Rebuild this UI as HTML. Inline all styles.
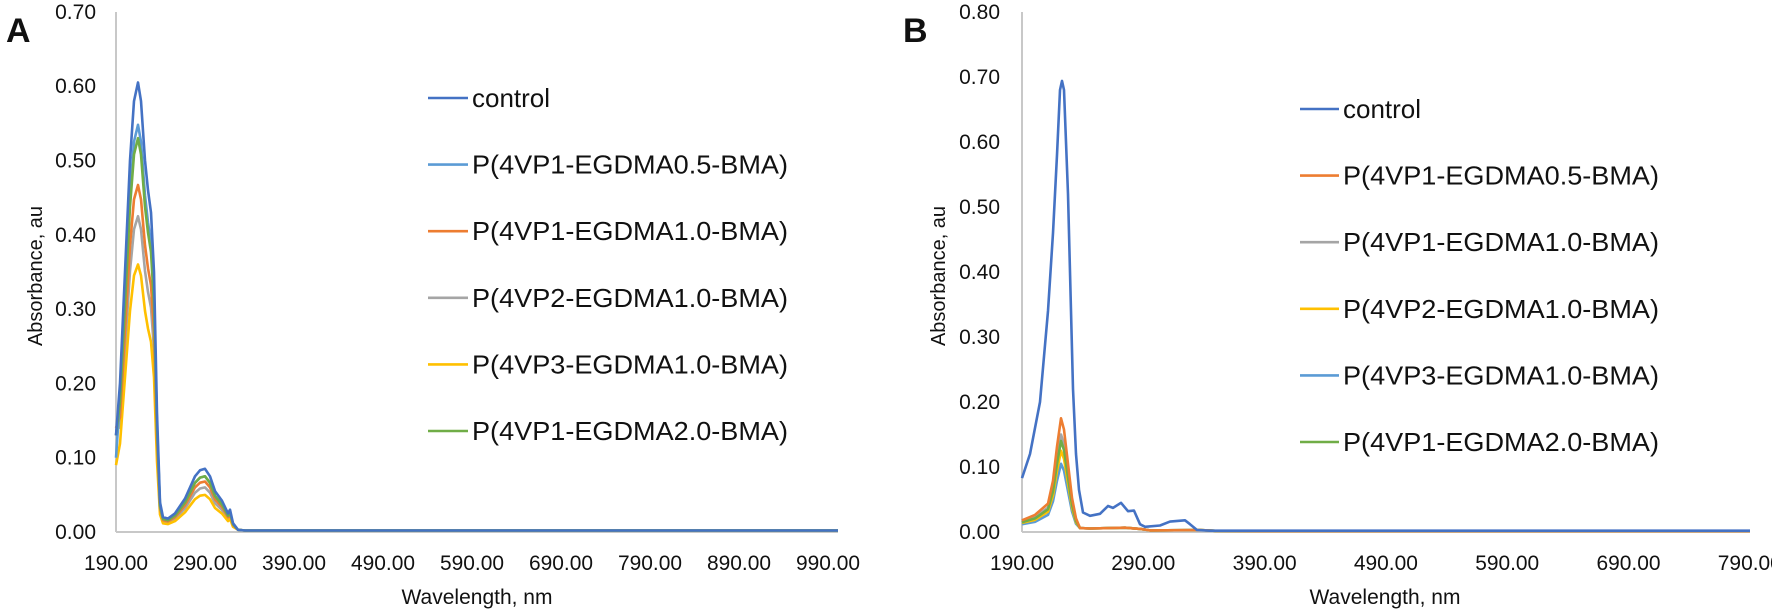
<!DOCTYPE html>
<html><head><meta charset="utf-8"><style>
html,body{margin:0;padding:0;background:#fff}
svg{display:block}
text{font-family:"Liberation Sans",sans-serif;fill:#111}
</style></head><body>
<svg id="s" width="1772" height="612" xmlns="http://www.w3.org/2000/svg">
<text x="6" y="42" style="font-weight:bold;font-size:34px">A</text>
<text x="903" y="42" style="font-weight:bold;font-size:34px">B</text>
<g id="g"></g>
<text transform="translate(42,276) rotate(-90)" text-anchor="middle" font-size="20">Absorbance, au</text>
<text transform="translate(945,276) rotate(-90)" text-anchor="middle" font-size="20">Absorbance, au</text>
<text x="477" y="604" text-anchor="middle" font-size="21">Wavelength, nm</text>
<text x="1385" y="604" text-anchor="middle" font-size="21">Wavelength, nm</text>
</svg>
<script>
var NS="http://www.w3.org/2000/svg",g=document.getElementById('g');
function el(t,a,txt){var e=document.createElementNS(NS,t);for(var k in a)e.setAttribute(k,a[k]);if(txt!==undefined)e.textContent=txt;g.appendChild(e);return e;}
var C={ctl:'#4472c4',lb:'#5b9bd5',or:'#ed7d31',gr:'#a5a5a5',ye:'#ffc000',gn:'#70ad47'};
var A0=532,Ak=743,B0=532,Bk=650;
el('line',{x1:116,y1:12,x2:116,y2:A0,stroke:'#c8c8c8','stroke-width':2});
el('line',{x1:116,y1:A0,x2:838,y2:A0,stroke:'#c8c8c8','stroke-width':2});
for(var i=0;i<=7;i++){el('text',{x:96,y:A0-i*0.1*Ak+7,'text-anchor':'end','font-size':21},(i/10).toFixed(2));}
for(var i=0;i<9;i++){el('text',{x:116+i*89,y:570,'text-anchor':'middle','font-size':21,textLength:64,lengthAdjust:'spacingAndGlyphs'},(190+i*100).toFixed(2));}
el('line',{x1:1022,y1:12,x2:1022,y2:B0,stroke:'#c8c8c8','stroke-width':2});
el('line',{x1:1022,y1:B0,x2:1750,y2:B0,stroke:'#c8c8c8','stroke-width':2});
for(var i=0;i<=8;i++){el('text',{x:1000,y:B0-i*0.1*Bk+7,'text-anchor':'end','font-size':21},(i/10).toFixed(2));}
for(var i=0;i<7;i++){el('text',{x:1022+i*121.3,y:570,'text-anchor':'middle','font-size':21,textLength:64,lengthAdjust:'spacingAndGlyphs'},(190+i*100).toFixed(2));}
var TA=[[116,.13],[120,.2],[125,.35],[130,.5],[134,.58],[138,.605],[141,.58],[145,.5],[148,.46],[151,.43],[154,.35],[157,.16],[160,.04],[163,.02],[168,.018],[175,.025],[185,.045],[195,.075],[200,.083],[205,.085],[210,.075],[215,.055],[222,.042],[228,.025],[230,.03],[233,.012],[238,.003],[245,.002],[838,.002]];
var SA=[['ctl',.605,.085,.13],['lb',.548,.075,.1],['or',.467,.068,.14],['gr',.425,.06,.14],['ye',.36,.05,.09],['gn',.53,.075,.13]];
var orderA=['gr','ye','or','lb','gn','ctl'];
orderA.forEach(function(key){var s=SA.filter(function(q){return q[0]==key})[0];
 var kp=s[1]/.605,kh=s[2]/.085,d='';
 TA.forEach(function(p,j){var v=p[0]<160?p[1]*kp:(p[0]<238?p[1]*kh:p[1]);
  if(j==0)v=s[3];
  d+=(j?'L':'M')+p[0]+','+(A0-v*Ak).toFixed(1);});
 el('path',{d:d,fill:'none',stroke:C[key],'stroke-width':2.6,'stroke-linejoin':'round'});});
function bpath(pts){var d='';pts.forEach(function(p,j){d+=(j?'L':'M')+p[0]+','+(B0-p[1]*Bk).toFixed(1);});return d;}
var TB=[[1022,1],[1035,1.5],[1048,2.5],[1053,4.5],[1057,7.5],[1061,10],[1064,9],[1068,6],[1072,3],[1076,1.2],[1080,.5],[1090,.45],[1110,.5],[1125,.55],[1140,.4],[1150,.2],[1200,.25],[1215,.15],[1260,.12],[1750,.12]];
var SB=[['lb',.105,.012],['ye',.125,.014],['gr',.15,.016],['gn',.14,.015],['or',.175,.018]];
SB.forEach(function(s){var k=s[1]/10;var pts=TB.map(function(p,j){var v=p[1]*k; if(j==0)v=s[2]; if(p[0]>=1080)v=p[1]*.012; return [p[0],v];});
 el('path',{d:bpath(pts),fill:'none',stroke:C[s[0]],'stroke-width':2.6,'stroke-linejoin':'round'});});
var CB=[[1022,.083],[1030,.12],[1040,.2],[1048,.34],[1053,.46],[1057,.58],[1060,.68],[1062,.694],[1064,.68],[1068,.52],[1073,.22],[1076,.12],[1079,.065],[1083,.03],[1090,.025],[1100,.028],[1108,.04],[1113,.037],[1121,.045],[1128,.032],[1134,.033],[1140,.012],[1145,.008],[1160,.01],[1170,.016],[1185,.018],[1190,.012],[1197,.003],[1210,.002],[1750,.002]];
el('path',{d:bpath(CB),fill:'none',stroke:C.ctl,'stroke-width':2.6,'stroke-linejoin':'round'});
var LA=[['ctl','control'],['lb','P(4VP1-EGDMA0.5-BMA)'],['or','P(4VP1-EGDMA1.0-BMA)'],['gr','P(4VP2-EGDMA1.0-BMA)'],['ye','P(4VP3-EGDMA1.0-BMA)'],['gn','P(4VP1-EGDMA2.0-BMA)']];
LA.forEach(function(l,i){var y=98+i*66.6;el('line',{x1:428,y1:y,x2:468,y2:y,stroke:C[l[0]],'stroke-width':2.6});
 var a={x:472,y:y+9,'font-size':26};if(i>0){a.textLength=316;a.lengthAdjust='spacingAndGlyphs';}el('text',a,l[1]);});
var LB=[['ctl','control'],['or','P(4VP1-EGDMA0.5-BMA)'],['gr','P(4VP1-EGDMA1.0-BMA)'],['ye','P(4VP2-EGDMA1.0-BMA)'],['lb','P(4VP3-EGDMA1.0-BMA)'],['gn','P(4VP1-EGDMA2.0-BMA)']];
LB.forEach(function(l,i){var y=109+i*66.6;el('line',{x1:1300,y1:y,x2:1339,y2:y,stroke:C[l[0]],'stroke-width':2.6});
 var a={x:1343,y:y+9,'font-size':26};if(i>0){a.textLength=316;a.lengthAdjust='spacingAndGlyphs';}el('text',a,l[1]);});
</script>
</body></html>
